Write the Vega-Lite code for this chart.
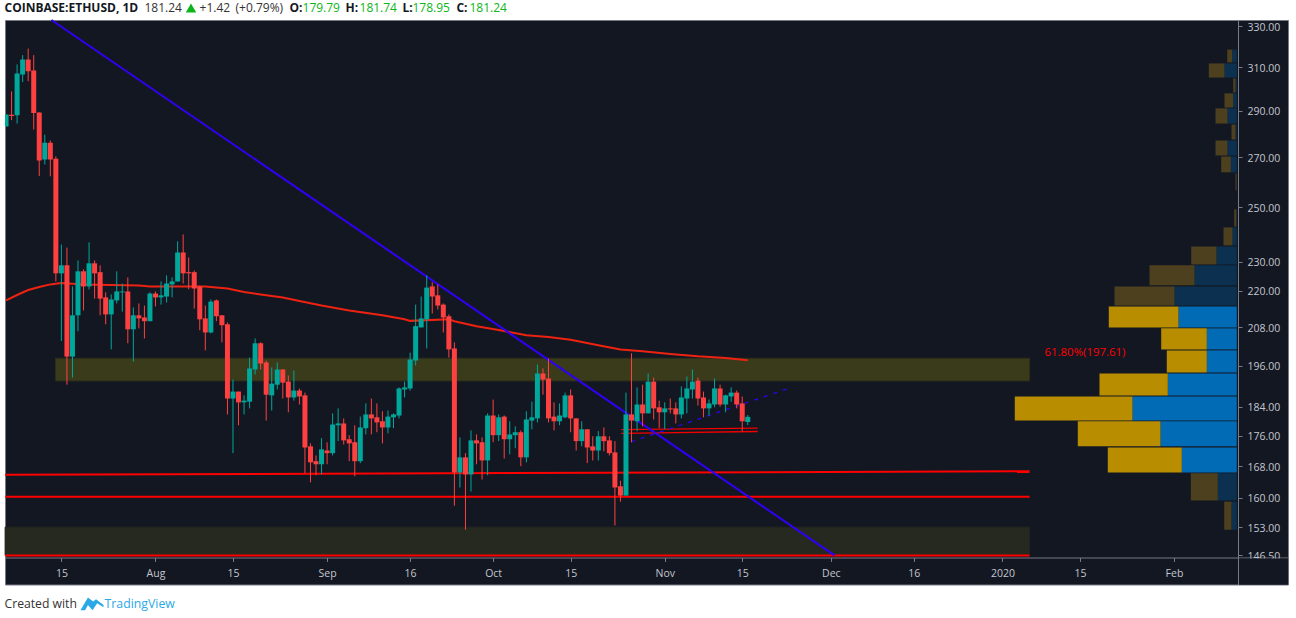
{"$schema":"https://vega.github.io/schema/vega-lite/v6.json","width":1283,"height":564.5,"autosize":{"type":"none"},"padding":{"left":5,"top":20,"right":8,"bottom":33},"background":"white","config":{"view":{"fill":"#131722","stroke":"#787b86"},"scale":{"continuousPadding":0}},"datasets":{"candles":[
{"d":"2019-07-05","o":283.0,"h":288.3,"l":283.0,"c":288.3},{"d":"2019-07-06","o":288.2,"h":298.7,"l":285.8,"c":287.6},{"d":"2019-07-07","o":288,"h":311.3,"l":284.3,"c":307},{"d":"2019-07-08","o":306.5,"h":315.8,"l":303,"c":313.7},{"d":"2019-07-09","o":313.7,"h":319,"l":303.4,"c":308.1},{"d":"2019-07-10","o":308.4,"h":315.8,"l":281.7,"c":288.9},{"d":"2019-07-11","o":289.2,"h":289.2,"l":262.3,"c":268.6},{"d":"2019-07-12","o":269,"h":279.5,"l":267,"c":276.1},{"d":"2019-07-13","o":276.1,"h":277,"l":262.2,"c":269},{"d":"2019-07-14","o":269.4,"h":270.3,"l":223.1,"c":225.9},
{"d":"2019-07-15","o":225.9,"h":236.1,"l":203.6,"c":228.7},{"d":"2019-07-16","o":228.7,"h":235,"l":190.4,"c":198.8},{"d":"2019-07-17","o":198.8,"h":221.4,"l":192.5,"c":211.8},{"d":"2019-07-18","o":211.8,"h":230.4,"l":206.7,"c":226.6},{"d":"2019-07-19","o":226.6,"h":227.3,"l":213.4,"c":221.4},{"d":"2019-07-20","o":221.4,"h":236.9,"l":220.4,"c":229.4},{"d":"2019-07-21","o":229.4,"h":230.4,"l":217.3,"c":225.9},{"d":"2019-07-22","o":226.3,"h":228.7,"l":211.8,"c":217.3},{"d":"2019-07-23","o":217.7,"h":219.4,"l":208.9,"c":212.1},{"d":"2019-07-24","o":212.1,"h":218.7,"l":201,"c":217},
{"d":"2019-07-25","o":216.7,"h":226.6,"l":215.7,"c":219.7},{"d":"2019-07-26","o":219.4,"h":222.4,"l":213,"c":219.7},{"d":"2019-07-27","o":219.7,"h":224.5,"l":202.9,"c":207.3},{"d":"2019-07-28","o":207.3,"h":214.4,"l":197.3,"c":211.8},{"d":"2019-07-29","o":211.8,"h":215.7,"l":207.6,"c":210.8},{"d":"2019-07-30","o":211.1,"h":215,"l":204.4,"c":209.9},{"d":"2019-07-31","o":209.9,"h":219.4,"l":209.9,"c":219},{"d":"2019-08-01","o":219,"h":219.7,"l":214.7,"c":217.7},{"d":"2019-08-02","o":217.7,"h":223.1,"l":215.3,"c":218.4},{"d":"2019-08-03","o":218,"h":225.2,"l":216,"c":222.4},
{"d":"2019-08-04","o":222.1,"h":224.5,"l":217.7,"c":223.1},{"d":"2019-08-05","o":223.1,"h":237.3,"l":223.1,"c":233.2},{"d":"2019-08-06","o":233.2,"h":239.8,"l":222.4,"c":225.9},{"d":"2019-08-07","o":226.3,"h":231.5,"l":220.4,"c":225.9},{"d":"2019-08-08","o":226.3,"h":226.9,"l":214,"c":220.7},{"d":"2019-08-09","o":221.4,"h":221.7,"l":207,"c":210.5},{"d":"2019-08-10","o":210.8,"h":215,"l":200.7,"c":206.3},{"d":"2019-08-11","o":206.3,"h":217,"l":206,"c":216.3},{"d":"2019-08-12","o":216.7,"h":217,"l":209.9,"c":211.5},{"d":"2019-08-13","o":211.8,"h":211.8,"l":203.2,"c":208.6},
{"d":"2019-08-14","o":208.9,"h":209.5,"l":181.9,"c":186.4},{"d":"2019-08-15","o":186.4,"h":191.9,"l":171.4,"c":188.4},{"d":"2019-08-16","o":188.4,"h":188.4,"l":178.9,"c":185.3},{"d":"2019-08-17","o":185.3,"h":187.3,"l":181.9,"c":185.8},{"d":"2019-08-18","o":185.5,"h":198.5,"l":183.6,"c":195.2},{"d":"2019-08-19","o":194.9,"h":204.4,"l":193.4,"c":202.9},{"d":"2019-08-20","o":202.9,"h":203.2,"l":194.9,"c":196.7},{"d":"2019-08-21","o":197,"h":197.6,"l":180.2,"c":187.5},{"d":"2019-08-22","o":187.3,"h":195.5,"l":183,"c":190.7},{"d":"2019-08-23","o":190.4,"h":197,"l":189,"c":194.9},
{"d":"2019-08-24","o":194.9,"h":194.9,"l":186.4,"c":191},{"d":"2019-08-25","o":191.3,"h":193.1,"l":182.5,"c":186.7},{"d":"2019-08-26","o":186.7,"h":194.6,"l":185.8,"c":188.7},{"d":"2019-08-27","o":188.7,"h":189.3,"l":184.7,"c":187},{"d":"2019-08-28","o":187.3,"h":188.1,"l":166.2,"c":172.9},{"d":"2019-08-29","o":173.2,"h":174,"l":163.9,"c":169},{"d":"2019-08-30","o":169.3,"h":170.8,"l":165.7,"c":168.5},{"d":"2019-08-31","o":168.5,"h":175.4,"l":165.9,"c":172.4},{"d":"2019-09-01","o":172.1,"h":174.3,"l":168.5,"c":171.4},{"d":"2019-09-02","o":171.4,"h":182.2,"l":170.8,"c":179.1},
{"d":"2019-09-03","o":178.9,"h":183.6,"l":174.6,"c":179.4},{"d":"2019-09-04","o":179.4,"h":180.8,"l":173.7,"c":174.8},{"d":"2019-09-05","o":175.1,"h":176.2,"l":169.3,"c":174},{"d":"2019-09-06","o":174.3,"h":178.9,"l":165.4,"c":169.3},{"d":"2019-09-07","o":169.3,"h":181.3,"l":168.8,"c":178.3},{"d":"2019-09-08","o":178.1,"h":185,"l":176.4,"c":181.9},{"d":"2019-09-09","o":181.9,"h":186.4,"l":176.4,"c":180.8},{"d":"2019-09-10","o":181.1,"h":185,"l":177,"c":179.7},{"d":"2019-09-11","o":180,"h":182.8,"l":174,"c":178.3},{"d":"2019-09-12","o":178.3,"h":183,"l":176.7,"c":181.3},
{"d":"2019-09-13","o":181.1,"h":182.2,"l":178.1,"c":181.9},{"d":"2019-09-14","o":181.6,"h":189.6,"l":180.8,"c":189.3},{"d":"2019-09-15","o":189,"h":191.3,"l":186.7,"c":189.6},{"d":"2019-09-16","o":189.3,"h":200,"l":188.7,"c":197.9},{"d":"2019-09-17","o":197.6,"h":215.3,"l":196.1,"c":208.3},{"d":"2019-09-18","o":207.9,"h":218,"l":207.9,"c":210.8},{"d":"2019-09-19","o":210.5,"h":225.2,"l":201.3,"c":221},{"d":"2019-09-20","o":221.4,"h":222.8,"l":212.4,"c":218},{"d":"2019-09-21","o":218.4,"h":222.1,"l":213.7,"c":215},{"d":"2019-09-22","o":215.3,"h":215.7,"l":206.3,"c":211.1},
{"d":"2019-09-23","o":211.5,"h":212.1,"l":198.5,"c":201},{"d":"2019-09-24","o":201.3,"h":203.2,"l":158.1,"c":166.4},{"d":"2019-09-25","o":166.4,"h":175.6,"l":162.6,"c":170.3},{"d":"2019-09-26","o":170.3,"h":171.4,"l":152.4,"c":165.9},{"d":"2019-09-27","o":165.9,"h":177.5,"l":161.6,"c":174.8},{"d":"2019-09-28","o":174.8,"h":176.4,"l":168.5,"c":174},{"d":"2019-09-29","o":174.3,"h":175.6,"l":164.6,"c":169.5},{"d":"2019-09-30","o":169.5,"h":182.2,"l":165.7,"c":181.6},{"d":"2019-10-01","o":181.6,"h":186.1,"l":174.3,"c":176.2},{"d":"2019-10-02","o":176.2,"h":181.9,"l":174.6,"c":181.1},
{"d":"2019-10-03","o":181.3,"h":181.6,"l":170,"c":175.1},{"d":"2019-10-04","o":175.1,"h":180,"l":171.1,"c":176.4},{"d":"2019-10-05","o":176.2,"h":178.6,"l":172.7,"c":177},{"d":"2019-10-06","o":177,"h":177.5,"l":168,"c":170.3},{"d":"2019-10-07","o":170.3,"h":182.8,"l":169,"c":180.5},{"d":"2019-10-08","o":180.2,"h":185.5,"l":177.8,"c":181.1},{"d":"2019-10-09","o":180.8,"h":196.4,"l":179.7,"c":193.7},{"d":"2019-10-10","o":193.7,"h":195.2,"l":187.5,"c":191.9},{"d":"2019-10-11","o":192.2,"h":198.2,"l":179.7,"c":180.8},{"d":"2019-10-12","o":181.3,"h":185.3,"l":177.5,"c":180},
{"d":"2019-10-13","o":180,"h":185,"l":178.9,"c":181.6},{"d":"2019-10-14","o":181.1,"h":188.1,"l":180.8,"c":187.3},{"d":"2019-10-15","o":187.3,"h":189,"l":177,"c":180.8},{"d":"2019-10-16","o":180.8,"h":180.8,"l":172.1,"c":174.6},{"d":"2019-10-17","o":174.6,"h":180,"l":173.2,"c":177.8},{"d":"2019-10-18","o":177.8,"h":177.8,"l":168.8,"c":172.9},{"d":"2019-10-19","o":173.2,"h":175.9,"l":169.5,"c":172.1},{"d":"2019-10-20","o":172.1,"h":177.3,"l":169.5,"c":175.9},{"d":"2019-10-21","o":175.9,"h":178.3,"l":171.9,"c":174.6},{"d":"2019-10-22","o":174.8,"h":175.9,"l":170.8,"c":171.4},
{"d":"2019-10-23","o":171.6,"h":174.6,"l":153.4,"c":162.6},{"d":"2019-10-24","o":162.9,"h":164.3,"l":159.1,"c":160.6},{"d":"2019-10-25","o":160.6,"h":188.1,"l":160.6,"c":181.9},{"d":"2019-10-26","o":181.9,"h":199.8,"l":174.3,"c":180.2},{"d":"2019-10-27","o":180,"h":189.6,"l":177.3,"c":184.7},{"d":"2019-10-28","o":184.7,"h":190.4,"l":178.6,"c":182.2},{"d":"2019-10-29","o":182.2,"h":193.7,"l":182.2,"c":191.3},{"d":"2019-10-30","o":191.3,"h":192.5,"l":180.5,"c":183.6},{"d":"2019-10-31","o":183.9,"h":185.8,"l":178.1,"c":182.5},{"d":"2019-11-01","o":182.5,"h":185.3,"l":177.8,"c":183.6},
{"d":"2019-11-02","o":183.6,"h":186.4,"l":182.2,"c":183.3},{"d":"2019-11-03","o":183.6,"h":185.3,"l":179.4,"c":181.9},{"d":"2019-11-04","o":181.9,"h":189.9,"l":180.8,"c":186.7},{"d":"2019-11-05","o":186.4,"h":192.8,"l":182.2,"c":189.3},{"d":"2019-11-06","o":189,"h":194.9,"l":186.4,"c":191.3},{"d":"2019-11-07","o":191.6,"h":192.5,"l":184.4,"c":186.4},{"d":"2019-11-08","o":186.7,"h":188.4,"l":181.1,"c":183.6},{"d":"2019-11-09","o":183.6,"h":186.1,"l":181.6,"c":185},{"d":"2019-11-10","o":184.7,"h":192.2,"l":183.9,"c":189.3},{"d":"2019-11-11","o":189.3,"h":190.4,"l":184.1,"c":184.7},
{"d":"2019-11-12","o":184.7,"h":187.5,"l":182.5,"c":187.3},{"d":"2019-11-13","o":187,"h":189.6,"l":185.5,"c":188.1},{"d":"2019-11-14","o":188.1,"h":188.7,"l":183.6,"c":184.7},{"d":"2019-11-15","o":185,"h":187,"l":177.3,"c":180},{"d":"2019-11-16","o":179.79,"h":181.74,"l":178.95,"c":181.24}
],
"ma":[{"d":"2019-07-05","p":216.7},{"d":"2019-07-07","p":218.5},{"d":"2019-07-09","p":220.2},{"d":"2019-07-11","p":221.2},{"d":"2019-07-13","p":222.1},{"d":"2019-07-15","p":222.6},{"d":"2019-07-19","p":222.1},{"d":"2019-07-29","p":221.7},{"d":"2019-07-31","p":221.4},{"d":"2019-08-06","p":221.4},{"d":"2019-08-10","p":221.4},{"d":"2019-08-14","p":220.7},{"d":"2019-08-17","p":219.5},{"d":"2019-08-20","p":218.7},{"d":"2019-08-24","p":217.7},{"d":"2019-08-27","p":216.5},{"d":"2019-08-31","p":215},{"d":"2019-09-05","p":213.4},{"d":"2019-09-11","p":211.8},{"d":"2019-09-15","p":210.5},{"d":"2019-09-16","p":210},{"d":"2019-09-23","p":210.5},{"d":"2019-09-24","p":209.9},{"d":"2019-09-28","p":208.3},{"d":"2019-10-02","p":207.1},{"d":"2019-10-07","p":205.4},{"d":"2019-10-11","p":204.9},{"d":"2019-10-15","p":204},{"d":"2019-10-20","p":202.3},{"d":"2019-10-24","p":201},{"d":"2019-10-28","p":200.4},{"d":"2019-11-02","p":199.6},{"d":"2019-11-07","p":198.9},{"d":"2019-11-12","p":198.4},{"d":"2019-11-16","p":197.7}],
"reds":[{"id":"a","d":"2019-07-04T20:00:00Z","p":165.8},{"id":"a","d":"2020-01-05T22:00:00Z","p":166.7},{"id":"b","d":"2019-07-04T20:00:00Z","p":160.3},{"id":"b","d":"2020-01-05T22:00:00Z","p":160.3},{"id":"c","d":"2019-07-04T20:00:00Z","p":146.5},{"id":"c","d":"2020-01-05T22:00:00Z","p":146.5}],
"redsThin":[{"id":"a","d":"2019-10-24T03:00:00Z","p":177.7},{"id":"a","d":"2019-11-17T19:00:00Z","p":178.1},{"id":"b","d":"2019-10-24T03:00:00Z","p":176.7},{"id":"b","d":"2019-11-17T19:00:00Z","p":177.2}],
"trend":[{"d":"2019-07-13T05:00:00Z","p":333.3},{"d":"2019-12-01T16:00:00Z","p":146.5}],
"dash":[{"d":"2019-10-25T22:30:00Z","p":174.4},{"d":"2019-11-24T02:00:00Z","p":189.7}],
"zoneA":[{"d0":"2019-07-13T22:00:00Z","d1":"2020-01-05T22:00:00Z","p0":191.5,"p1":198.3}],
"zoneB":[{"d0":"2019-07-04T20:00:00Z","d1":"2020-01-05T22:00:00Z","p0":146.5,"p1":153}],
"mask":[{"d0":"2020-02-12T19:00:00Z","d1":"2020-02-21T15:00:00Z","p0":140.1,"p1":145.8}],
"vol":[
{"p0":312.3,"p1":318.5,"v0":0,"v1":4.6,"k":"dimBuy"},{"p0":312.3,"p1":318.5,"v0":4.6,"v1":9.6,"k":"dimSell"},
{"p0":305.1,"p1":311.8,"v0":0,"v1":12.3,"k":"dimBuy"},{"p0":305.1,"p1":311.8,"v0":12.3,"v1":28,"k":"dimSell"},
{"p0":298.2,"p1":304.7,"v0":0,"v1":1.3,"k":"dimBuy"},{"p0":298.2,"p1":304.7,"v0":1.3,"v1":3.6,"k":"dimSell"},
{"p0":291.4,"p1":297.8,"v0":0,"v1":3.6,"k":"dimBuy"},{"p0":291.4,"p1":297.8,"v0":3.6,"v1":12.3,"k":"dimSell"},
{"p0":284.3,"p1":291,"v0":0,"v1":9.3,"k":"dimBuy"},{"p0":284.3,"p1":291,"v0":9.3,"v1":21.3,"k":"dimSell"},
{"p0":277.4,"p1":283.9,"v0":0,"v1":1.3,"k":"dimBuy"},{"p0":277.4,"p1":283.9,"v0":1.3,"v1":5.3,"k":"dimSell"},
{"p0":270.7,"p1":277,"v0":0,"v1":9.3,"k":"dimBuy"},{"p0":270.7,"p1":277,"v0":9.3,"v1":21.3,"k":"dimSell"},
{"p0":263.8,"p1":270.3,"v0":0,"v1":6,"k":"dimBuy"},{"p0":263.8,"p1":270.3,"v0":6,"v1":15.6,"k":"dimSell"},
{"p0":256.5,"p1":263.4,"v0":0,"v1":0.3,"k":"dimBuy"},{"p0":256.5,"p1":263.4,"v0":0.3,"v1":1.3,"k":"dimSell"},
{"p0":242.7,"p1":249.2,"v0":0,"v1":0.5,"k":"dimBuy"},{"p0":242.7,"p1":249.2,"v0":0.5,"v1":2.6,"k":"dimSell"},
{"p0":235.8,"p1":242.4,"v0":0,"v1":4.3,"k":"dimBuy"},{"p0":235.8,"p1":242.4,"v0":4.3,"v1":13.3,"k":"dimSell"},
{"p0":229,"p1":235.4,"v0":0,"v1":20.3,"k":"dimBuy"},{"p0":229,"p1":235.4,"v0":20.3,"v1":45.6,"k":"dimSell"},
{"p0":221.8,"p1":228.7,"v0":0,"v1":42.3,"k":"dimBuy"},{"p0":221.8,"p1":228.7,"v0":42.3,"v1":87.3,"k":"dimSell"},
{"p0":215,"p1":221.4,"v0":0,"v1":62.3,"k":"dimBuy"},{"p0":215,"p1":221.4,"v0":62.3,"v1":122.3,"k":"dimSell"},
{"p0":207.9,"p1":214.7,"v0":0,"v1":58.3,"k":"buy"},{"p0":207.9,"p1":214.7,"v0":58.3,"v1":128,"k":"sell"},
{"p0":201,"p1":207.6,"v0":0,"v1":30,"k":"buy"},{"p0":201,"p1":207.6,"v0":30,"v1":75.6,"k":"sell"},
{"p0":194,"p1":200.7,"v0":0,"v1":30,"k":"buy"},{"p0":194,"p1":200.7,"v0":30,"v1":70,"k":"sell"},
{"p0":187.3,"p1":193.7,"v0":0,"v1":69,"k":"buy"},{"p0":187.3,"p1":193.7,"v0":69,"v1":137.3,"k":"sell"},
{"p0":180.2,"p1":187,"v0":0,"v1":104.3,"k":"buy"},{"p0":180.2,"p1":187,"v0":104.3,"v1":222,"k":"sell"},
{"p0":173.2,"p1":180,"v0":0,"v1":76.3,"k":"buy"},{"p0":173.2,"p1":180,"v0":76.3,"v1":159,"k":"sell"},
{"p0":166.4,"p1":172.9,"v0":0,"v1":55,"k":"buy"},{"p0":166.4,"p1":172.9,"v0":55,"v1":129,"k":"sell"},
{"p0":159.4,"p1":166.2,"v0":0,"v1":19,"k":"dimBuy"},{"p0":159.4,"p1":166.2,"v0":19,"v1":46,"k":"dimSell"},
{"p0":152.4,"p1":159.1,"v0":0,"v1":5.3,"k":"dimBuy"},{"p0":152.4,"p1":159.1,"v0":5.3,"v1":12.6,"k":"dimSell"}
],
"hdrBold":[{"d":"2019-07-04T17:15:00Z","p":339.5,"t":"COINBASE:ETHUSD, 1D"},{"d":"2019-08-25T05:00:00Z","p":339.5,"t":"O:"},{"d":"2019-09-04T08:00:00Z","p":339.5,"t":"H:"},{"d":"2019-09-14T15:00:00Z","p":339.5,"t":"L:"},{"d":"2019-09-24T09:00:00Z","p":339.5,"t":"C:"}],
"hdrDark":[{"d":"2019-07-30T00:20:00Z","p":339.5,"t":"181.24"},{"d":"2019-08-08T23:00:00Z","p":339.5,"t":"+1.42"},{"d":"2019-08-15T11:00:00Z","p":339.5,"t":"(+0.79%)"}],
"hdrGreen":[{"d":"2019-08-27T13:30:00Z","p":339.5,"t":"179.79"},{"d":"2019-09-06T20:40:00Z","p":339.5,"t":"181.74"},{"d":"2019-09-16T10:20:00Z","p":339.5,"t":"178.95"},{"d":"2019-09-26T17:30:00Z","p":339.5,"t":"181.24"}]
},
"resolve":{"scale":{"x":"independent"}},
"layer":[
{"data":{"name":"vol"},"mark":{"type":"rect"},"encoding":{
"x":{"field":"v0","type":"quantitative","scale":{"domain":[1231.8,-51.2],"nice":false,"zero":false},"axis":null},"x2":{"field":"v1"},
"y":{"field":"p0","type":"quantitative","scale":{"type":"log","domain":[140.1,333.3],"nice":false},
"axis":{"title":null,"orient":"right","offset":-50,"grid":false,"values":[330,310,290,270,250,230,220,208,196,184,176,168,160,153,146.5],"format":".2f","domainColor":"#787b86","tickColor":"#787b86","labelColor":"#c3c6ce","labelFont":"Open Sans","labelFontSize":10.5,"tickSize":4,"labelPadding":5,"labelOffset":1,"labelOverlap":false,"labelFlush":false}},"y2":{"field":"p1"},
"color":{"field":"k","type":"nominal","legend":null,"scale":{"domain":["buy","sell","dimBuy","dimSell"],"range":["#016bb5","#b88d00","#0b3050","#4d401f"]}}}},
{"layer":[
{"data":{"name":"mask"},"mark":{"type":"rect","fill":"#131722"},"encoding":{"x":{"field":"d0","type":"temporal","scale":{"type":"utc","nice":false,"domain":[1562268600000,1582295000000]},
"axis":{"title":null,"orient":"bottom","offset":-27,"grid":false,"values":[1563148800000,1564617600000,1565827200000,1567296000000,1568592000000,1569888000000,1571097600000,1572566400000,1573776000000,1575158400000,1576454400000,1577836800000,1579046400000,1580515200000],"labelExpr":"utcdate(datum.value)==1 ? (utcmonth(datum.value)==0 ? utcyear(datum.value)+'' : utcFormat(datum.value,'%b')) : utcdate(datum.value)+''","domainColor":"#787b86","tickColor":"#787b86","labelColor":"#c3c6ce","labelFont":"Open Sans","labelFontSize":10.5,"labelFontWeight":"normal","tickSize":4,"labelPadding":7,"labelOverlap":false,"labelFlush":false,"labelAngle":0}},"x2":{"field":"d1"},
"y":{"field":"p0","type":"quantitative","scale":{"type":"log","domain":[140.1,333.3],"nice":false},
"axis":{"title":null,"orient":"right","offset":-50,"grid":false,"values":[330,310,290,270,250,230,220,208,196,184,176,168,160,153,146.5],"format":".2f","domainColor":"#787b86","tickColor":"#787b86","labelColor":"#c3c6ce","labelFont":"Open Sans","labelFontSize":10.5,"tickSize":4,"labelPadding":5,"labelOffset":1,"labelOverlap":false,"labelFlush":false}},"y2":{"field":"p1"}}},
{"data":{"name":"zoneA"},"mark":{"type":"rect","fill":"#3a3b1b","stroke":"#2c2e1c","strokeWidth":1},"encoding":{"x":{"field":"d0","type":"temporal"},"x2":{"field":"d1"},"y":{"field":"p0","type":"quantitative"},"y2":{"field":"p1"}}},
{"data":{"name":"zoneB"},"mark":{"type":"rect","fill":"#26291f","stroke":"#23261f","strokeWidth":1},"encoding":{"x":{"field":"d0","type":"temporal"},"x2":{"field":"d1"},"y":{"field":"p0","type":"quantitative"},"y2":{"field":"p1"}}},
{"data":{"name":"reds"},"mark":{"type":"line","color":"#ff0000","strokeWidth":2},"encoding":{"x":{"field":"d","type":"temporal"},"y":{"field":"p","type":"quantitative"},"detail":{"field":"id"}}},
{"data":{"name":"redsThin"},"mark":{"type":"line","color":"#f00000","strokeWidth":1.3},"encoding":{"x":{"field":"d","type":"temporal"},"y":{"field":"p","type":"quantitative"},"detail":{"field":"id"}}},
{"data":{"name":"ma"},"mark":{"type":"line","color":"#ee2210","strokeWidth":2},"encoding":{"x":{"field":"d","type":"temporal"},"y":{"field":"p","type":"quantitative"}}},
{"data":{"name":"trend"},"mark":{"type":"line","color":"#3000f5","strokeWidth":2},"encoding":{"x":{"field":"d","type":"temporal"},"y":{"field":"p","type":"quantitative"}}},
{"data":{"name":"dash"},"mark":{"type":"line","color":"#3000f5","strokeWidth":1.3,"strokeDash":[4,6]},"encoding":{"x":{"field":"d","type":"temporal"},"y":{"field":"p","type":"quantitative"}}},
{"data":{"name":"candles"},"mark":{"type":"rule","strokeWidth":1,"clip":true},"encoding":{"x":{"field":"d","type":"temporal"},"y":{"field":"l","type":"quantitative"},"y2":{"field":"h"},"color":{"condition":{"test":"datum.c>=datum.o","value":"#00a79b"},"value":"#ff4040"}}},
{"data":{"name":"candles"},"mark":{"type":"bar","width":5,"clip":true},"encoding":{"x":{"field":"d","type":"temporal"},"y":{"field":"o","type":"quantitative"},"y2":{"field":"c"},"color":{"condition":{"test":"datum.c>=datum.o","value":"#00a79b"},"value":"#ff4040"}}},
{"data":{"values":[{"d":"2020-01-08T15:00:00Z","p":200,"t":"61.80%(197.61)"}]},"mark":{"type":"text","align":"left","baseline":"middle","color":"#ff0000","font":"Open Sans","fontSize":11.4},"encoding":{"x":{"field":"d","type":"temporal"},"y":{"field":"p","type":"quantitative"},"text":{"field":"t"}}},
{"data":{"name":"hdrBold"},"mark":{"type":"text","align":"left","baseline":"middle","color":"#131722","font":"Open Sans","fontSize":12,"fontWeight":"bold"},"encoding":{"x":{"field":"d","type":"temporal"},"y":{"field":"p","type":"quantitative"},"text":{"field":"t"}}},
{"data":{"name":"hdrDark"},"mark":{"type":"text","align":"left","baseline":"middle","color":"#333333","font":"Open Sans","fontSize":12},"encoding":{"x":{"field":"d","type":"temporal"},"y":{"field":"p","type":"quantitative"},"text":{"field":"t"}}},
{"data":{"name":"hdrGreen"},"mark":{"type":"text","align":"left","baseline":"middle","color":"#0cb51a","font":"Open Sans","fontSize":12},"encoding":{"x":{"field":"d","type":"temporal"},"y":{"field":"p","type":"quantitative"},"text":{"field":"t"}}},
{"data":{"values":[{"d":"2019-08-07T10:00:00Z","p":339.5}]},"mark":{"type":"point","shape":"triangle-up","filled":true,"size":110,"color":"#0cb51a","opacity":1},"encoding":{"x":{"field":"d","type":"temporal"},"y":{"field":"p","type":"quantitative"}}},
{"data":{"values":[{"d":"2019-07-04T17:15:00Z","p":136,"t":"Created with"}]},"mark":{"type":"text","align":"left","baseline":"middle","color":"#333333","font":"Open Sans","fontSize":12.2},"encoding":{"x":{"field":"d","type":"temporal"},"y":{"field":"p","type":"quantitative"},"text":{"field":"t"}}},
{"data":{"values":[{"d":"2019-07-22T19:00:00Z","p":136,"t":"TradingView"}]},"mark":{"type":"text","align":"left","baseline":"middle","color":"#2aa9e6","font":"Open Sans","fontSize":12.3},"encoding":{"x":{"field":"d","type":"temporal"},"y":{"field":"p","type":"quantitative"},"text":{"field":"t"}}},
{"data":{"values":[{"d":"2019-07-20T12:40:00Z","p":136}]},"mark":{"type":"point","filled":true,"opacity":1,"size":529,"color":"#2aa9e6","shape":"M-1,0.55 L-0.35,-0.55 L0.1,-0.2 L0.35,-0.4 L1,0.1 L1,0.3 L0.45,-0.05 L0.05,0.55 L-0.35,0.1 L-0.6,0.55 Z"},"encoding":{"x":{"field":"d","type":"temporal"},"y":{"field":"p","type":"quantitative"}}}
]}
]}
